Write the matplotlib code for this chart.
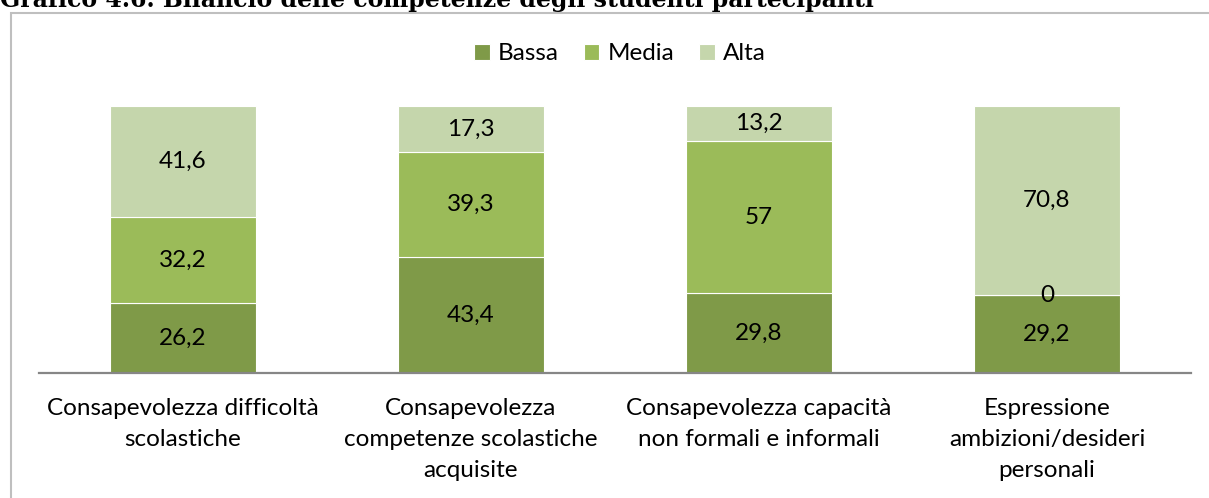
import matplotlib
matplotlib.use("Agg")
import matplotlib.pyplot as plt
from matplotlib.patches import Rectangle

# Dati del grafico
categorie = [
    "Consapevolezza difficoltà\nscolastiche",
    "Consapevolezza\ncompetenze scolastiche\nacquisite",
    "Consapevolezza capacità\nnon formali e informali",
    "Espressione\nambizioni/desideri\npersonali",
]
bassa = [26.2, 43.4, 29.8, 29.2]
media = [32.2, 39.3, 57, 0]
alta = [41.6, 17.3, 13.2, 70.8]

serie = [("Bassa", bassa, "#7F9A48"),
         ("Media", media, "#9BBB59"),
         ("Alta", alta, "#C5D6AC")]

plt.rcParams['font.family'] = ['Lato', 'DejaVu Sans']

W, H = 1209, 498
fig = plt.figure(figsize=(W / 100, H / 100), dpi=100)
ax = fig.add_axes([39 / W, 1 - 373 / H, (1191 - 39) / W, (373 - 106) / H])

x = range(len(categorie))
base = [0] * len(categorie)
for nome, valori, colore in serie:
    barre = ax.bar(x, valori, width=0.51, bottom=base, color=colore,
                   edgecolor="white", linewidth=0.8, label=nome)
    for xi, b, v in zip(x, base, valori):
        ax.text(xi, b + v / 2, f"{v:g}".replace(".", ","), ha="center",
                va="center", fontsize=17.5, color="black")
    base = [b + v for b, v in zip(base, valori)]

ax.set_xlim(-0.5, 3.5)
ax.set_ylim(0, 100)
ax.set_xticks(list(x))
ax.set_xticklabels(categorie, fontsize=17.5, linespacing=1.58, va="top")
ax.tick_params(axis="x", length=0, pad=18)
ax.set_yticks([])
for lato in ["left", "right", "top"]:
    ax.spines[lato].set_visible(False)
ax.spines["bottom"].set_color("#868686")
ax.spines["bottom"].set_linewidth(1.6)

leg = fig.legend(loc="center", bbox_to_anchor=(620 / W, 1 - 54 / H), ncol=3,
                 frameon=False, fontsize=17.5, handlelength=0.65, handleheight=0.65,
                 handletextpad=0.35, columnspacing=1.0)

# Cornice del grafico
fig.add_artist(Rectangle((11 / W, -0.1), 1.2, 1.1 - 13 / H, transform=fig.transFigure,
                         fill=False, edgecolor="#BFBFBF", linewidth=1.5))

fig.text(0, 1 - 7 / H, "Grafico 4.6. Bilancio delle competenze degli studenti partecipanti",
         fontsize=17, fontweight="bold", family=["DejaVu Serif"], va="baseline", ha="left")

fig.savefig("out.png", dpi=100)
